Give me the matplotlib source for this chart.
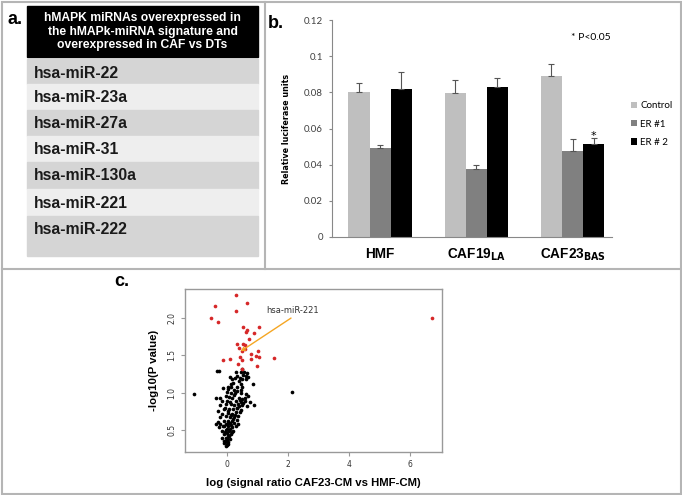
import matplotlib.pyplot as plt
import matplotlib.patches as mpatches
import numpy as np

# panel a - table
table_header = "hMAPK miRNAs overexpressed in\nthe hMAPk-miRNA signature and\noverexpressed in CAF vs DTs"
mirnas = ['hsa-miR-22', 'hsa-miR-23a', 'hsa-miR-27a', 'hsa-miR-31',
          'hsa-miR-130a', 'hsa-miR-221', 'hsa-miR-222']

# panel b - luciferase bars
groups = ['HMF', r'CAF19$_{\mathbf{LA}}$', r'CAF23$_{\mathbf{BAS}}$']
series_names = ['Control', 'ER #1', 'ER # 2']
control = [0.080, 0.0795, 0.089]
control_err = [0.005, 0.0075, 0.0065]
er1 = [0.049, 0.0375, 0.0475]
er1_err = [0.002, 0.0025, 0.0065]
er2 = [0.082, 0.083, 0.0515]
er2_err = [0.009, 0.005, 0.003]

# panel c - volcano-like scatter
red_x = [0.30, -0.38, 0.68, 0.32, -0.50, -0.28, 1.06, 0.54, 0.66, 0.62, 0.90, 0.75,
         0.35, 0.54, 0.61, 0.59, 0.42, 0.50, 1.03, 0.81, 0.96, 1.07, -0.12, 0.10,
         0.43, 0.49, 0.81, 1.54, 0.37, 1.01, 0.50, 6.72]
red_y = [2.30, 2.16, 2.19, 2.09, 1.99, 1.94, 1.88, 1.88, 1.84, 1.81, 1.79, 1.71,
         1.65, 1.65, 1.63, 1.58, 1.59, 1.55, 1.55, 1.52, 1.49, 1.47, 1.43, 1.45,
         1.47, 1.44, 1.45, 1.46, 1.38, 1.35, 1.31, 2.00]
black_x = [-0.31, -0.25, -1.05, 2.15, 0.49, 0.30, 0.46, 0.57, 0.68, 0.35, 0.11, 0.27,
           0.44, 0.51, 0.62, 0.71, 0.22, 0.13, 0.46, 0.85, 0.04, -0.11, 0.15, 0.35,
           0.51, 0.04, 0.24, 0.46, 0.00, 0.13, 0.27, 0.46, 0.62, 0.70, -0.36, -0.20,
           -0.03, 0.19, 0.40, 0.51, -0.14, 0.02, 0.30, 0.46, 0.59, 0.77, 0.90, -0.22,
           -0.03, 0.13, 0.24, 0.38, 0.51, 0.68, -0.28, -0.09, 0.08, 0.22, 0.35, 0.46,
           -0.14, 0.04, 0.19, 0.30, 0.43, -0.20, -0.03, 0.11, 0.24, 0.37, -0.28, -0.09,
           0.04, 0.19, 0.33, -0.36, -0.20, -0.03, 0.11, 0.24, 0.38, -0.25, -0.11, 0.04,
           0.19, 0.30, -0.14, -0.03, 0.08, 0.22, -0.09, 0.02, 0.13, -0.14, -0.03, 0.08,
           -0.09, 0.00, 0.04, -0.07, 0.00, -0.03, 0.02,
           0.05, 0.10, 0.15, -0.05, 0.00, 0.06, 0.20, 0.28, 0.33, 0.40, 0.45, 0.55,
           0.60, 0.15, 0.05, -0.05, 0.10, 0.25, 0.35, 0.40, 0.55, 0.65, 0.18, 0.08,
           -0.08, 0.12, -0.02, 0.06, 0.03, 0.17]
black_y = [1.29, 1.29, 0.98, 1.01, 1.31, 1.27, 1.27, 1.28, 1.26, 1.22, 1.21, 1.19,
           1.20, 1.18, 1.22, 1.21, 1.13, 1.11, 1.11, 1.12, 1.08, 1.06, 1.07, 1.07,
           1.08, 1.05, 1.04, 1.04, 1.01, 0.99, 1.00, 1.00, 0.98, 0.96, 0.93, 0.93,
           0.96, 0.93, 0.93, 0.91, 0.89, 0.89, 0.89, 0.88, 0.89, 0.87, 0.83, 0.83,
           0.85, 0.85, 0.83, 0.85, 0.83, 0.82, 0.76, 0.78, 0.78, 0.78, 0.79, 0.77,
           0.71, 0.73, 0.72, 0.74, 0.74, 0.67, 0.69, 0.67, 0.68, 0.69, 0.61, 0.62,
           0.62, 0.62, 0.64, 0.58, 0.58, 0.58, 0.59, 0.59, 0.58, 0.54, 0.55, 0.56,
           0.54, 0.55, 0.49, 0.50, 0.49, 0.49, 0.45, 0.46, 0.45, 0.40, 0.40, 0.42,
           0.36, 0.37, 0.34, 0.33, 0.31, 0.29, 0.30,
           0.44, 0.52, 0.57, 0.47, 0.52, 0.60, 0.65, 0.70, 0.80, 0.82, 0.90, 0.86,
           0.93, 0.70, 0.75, 0.80, 0.88, 0.97, 1.02, 1.15, 1.24, 1.18, 1.18, 0.94,
           0.56, 0.38, 0.35, 0.32, 0.40, 0.47]

fig = plt.figure(figsize=(6.82, 4.95), dpi=100)

# background layer in pixel coords: frames and table
bg = fig.add_axes([0, 0, 1, 1])
bg.set_xlim(0, 682)
bg.set_ylim(495, 0)
bg.axis('off')
frame = '#b5b5b5'
bg.add_patch(mpatches.Rectangle((1.5, 1.5), 679, 492, fill=False, edgecolor=frame, lw=1.5))
bg.plot([265, 265], [1.5, 269], color=frame, lw=1.5)
bg.plot([1.5, 680.5], [269, 269], color=frame, lw=1.5)

bg.text(7, 20, 'a.', fontsize=13, fontweight='bold', family='Liberation Sans', va='center')
bg.text(268, 24, 'b.', fontsize=13, fontweight='bold', family='Liberation Sans', va='center')
bg.text(114, 281, 'c.', fontsize=13, fontweight='bold', family='Liberation Sans', va='center')

bg.add_patch(mpatches.Rectangle((27, 6), 231, 51, color='black'))
bg.text(142.5, 31.5, table_header, color='white', fontsize=8.7, fontweight='bold',
        family='Liberation Sans', ha='center', va='center', linespacing=1.15)
row_tops = [59, 84, 110, 136, 162, 189, 216, 256]
for i, name in enumerate(mirnas):
    top = row_tops[i]
    col = '#d5d5d5' if i % 2 == 0 else '#eeeeee'
    bg.add_patch(mpatches.Rectangle((27, top), 231, row_tops[i + 1] - top, color=col))
    bg.text(34, top + 14, name, fontsize=11.3, fontweight='bold', color='#1a1a1a',
            family='Liberation Sans', va='center')

# BAR PLOT (panel b)
ax = fig.add_axes([332 / 682, 1 - 237 / 495, 280 / 682, 217 / 495])
x = np.arange(len(groups))
w = 0.22
ekw = dict(ecolor='#555555', elinewidth=0.8, capsize=2.5, capthick=0.8)
ax.bar(x - w, control, w, color='#bfbfbf', label=series_names[0],
       yerr=[np.zeros(3), control_err], error_kw=ekw)
ax.bar(x, er1, w, color='#808080', label=series_names[1],
       yerr=[np.zeros(3), er1_err], error_kw=ekw)
ax.bar(x + w, er2, w, color='black', label=series_names[2],
       yerr=[np.zeros(3), er2_err], error_kw=ekw)
ax.set_xlim(-0.5, 2.41)
ax.set_ylim(0, 0.12)
ax.set_yticks([0, 0.02, 0.04, 0.06, 0.08, 0.1, 0.12])
ax.set_yticklabels(['0', '0.02', '0.04', '0.06', '0.08', '0.1', '0.12'],
                   fontsize=7, color='#404040', family='Lato')
ax.set_xticks(x)
ax.set_xticklabels(groups, fontsize=9.8, fontweight='bold', family='Liberation Sans')
ax.tick_params(axis='x', length=0, pad=7)
ax.tick_params(axis='y', length=2.5, color='#888888', pad=4)
for s in ['top', 'right']:
    ax.spines[s].set_visible(False)
ax.spines['left'].set_color('#888888')
ax.spines['bottom'].set_color('#888888')
ax.spines['left'].set_linewidth(0.8)
ax.spines['bottom'].set_linewidth(0.8)
ax.set_ylabel('Relative luciferase units', fontsize=5.8, fontweight='bold', labelpad=9)
ax.text(2 + w, er2[2] + er2_err[2] + 0.0015, '*', fontsize=8, ha='center', va='center')
ax.text(1.98, 0.1105, '* P<0.05', fontsize=7.5, family='Lato', va='center')
ax.legend(loc='center left', bbox_to_anchor=(1.045, 0.52), frameon=False,
          prop={'family': 'Lato', 'size': 7}, handlelength=0.6, handleheight=0.6,
          handletextpad=0.3, labelspacing=0.95, borderaxespad=0.3)

# SCATTER PLOT (panel c)
ax2 = fig.add_axes([185 / 682, 1 - 452 / 495, 257 / 682, 163 / 495])
ax2.scatter(black_x, black_y, s=7, color='black', linewidths=0)
ax2.scatter(red_x, red_y, s=7, color='#d62728', linewidths=0)
ax2.set_xlim(-1.36, 7.05)
ax2.set_ylim(0.21, 2.38)
ax2.set_xticks([0, 2, 4, 6])
ax2.set_yticks([0.5, 1.0, 1.5, 2.0])
ax2.set_yticklabels(['0.5', '1.0', '1.5', '2.0'], rotation=90, va='center')
ax2.tick_params(labelsize=5.5, labelcolor='#333333', length=3, color='#999999', pad=3)
for s in ax2.spines.values():
    s.set_color('#999999')
    s.set_linewidth(1.0)
ax2.annotate('hsa-miR-221', xy=(0.46, 1.55), xytext=(1.3, 2.09), fontsize=6,
             color='#333333', va='center',
             arrowprops=dict(arrowstyle='->', color='#f5a623', lw=1.0,
                             shrinkA=0, shrinkB=0, relpos=(0.55, 0.0)))
ax2.set_xlabel('log (signal ratio CAF23-CM vs HMF-CM)', fontsize=8.2, fontweight='bold',
               family='Liberation Sans', labelpad=6)
ax2.set_ylabel('-log10(P value)', fontsize=8.2, fontweight='bold',
               family='Liberation Sans', labelpad=6)

plt.savefig('out.png', dpi=100)
